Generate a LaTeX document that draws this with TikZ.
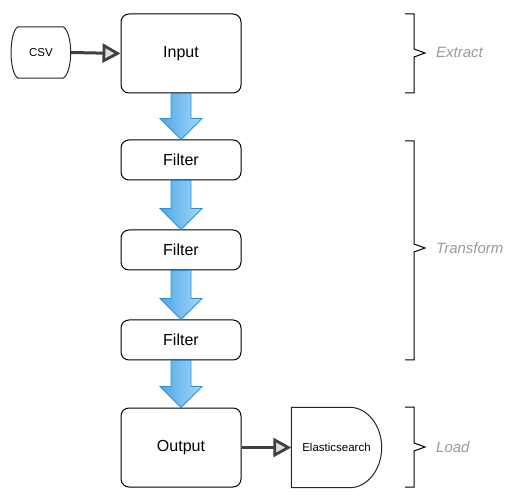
\documentclass[tikz,border=0pt]{standalone}
\usepackage{fontspec}
\setmainfont{Liberation Sans}
\usetikzlibrary{arrows.meta,calc}
\definecolor{arrL}{HTML}{4FA6E6}
\definecolor{arrR}{HTML}{A5D9F8}
\definecolor{arrB}{HTML}{2E8FD6}
\definecolor{connC}{HTML}{404040}
\definecolor{lblC}{HTML}{999999}
\definecolor{tipC}{HTML}{DDDDDD}
\newcommand\flowarrow[2]{%
  \shadedraw[flowarr] ($(#1.south)+(-10,0)$) -- ($(#2.north)+(-10,-21)$) -- ($(#2.north)+(-21,-21)$) -- (#2.north) -- ($(#2.north)+(21,-21)$) -- ($(#2.north)+(10,-21)$) -- ($(#1.south)+(10,0)$) -- cycle;}
\begin{document}
\begin{tikzpicture}[x=1pt,y=-1pt,
  stage/.style={draw=black,line width=1pt,rounded corners=8pt,minimum width=120pt,inner sep=0pt,font=\fontsize{16}{19}\selectfont},
  bigstage/.style={stage,minimum height=79pt},
  smallstage/.style={stage,minimum height=40pt},
  flowarr/.style={left color=arrL,right color=arrR,draw=arrB,line width=0.8pt},
  conn/.style={draw=connC,line width=3pt,-{Triangle[length=18pt,width=19pt,line width=2.8pt,fill=tipC]}},
  outline/.style={draw=black!85,line width=1pt},
  store/.style={inner sep=0pt,font=\fontsize{11.5}{14}\selectfont},
  brace/.style={draw=black,line width=1pt},
  phase/.style={anchor=west,inner sep=0pt,text=lblC,font=\fontsize{15}{18}\selectfont\itshape}]
\useasboundingbox (0,0) rectangle (515,500);

% stages
\node[bigstage] (in) at (181,53.5) {Input};
\node[smallstage] (f1) at (181,160) {Filter};
\node[smallstage] (f2) at (181,250) {Filter};
\node[smallstage] (f3) at (181,340) {Filter};
\node[bigstage] (out) at (181,447.5) {Output};

% block arrows
\flowarrow{in}{f1}
\flowarrow{f1}{f2}
\flowarrow{f2}{f3}
\flowarrow{f3}{out}

% CSV source
\node[store,minimum width=60pt,minimum height=51pt] (csv) at (41,52.5) {CSV};
\draw[outline] ($(csv.north west)+(7,0)$) -- ($(csv.north east)+(-8,0)$)
  .. controls ($(csv.north east)+(2,6)$) and ($(csv.south east)+(2,-6)$) .. ($(csv.south east)+(-8,0)$)
  -- ($(csv.south west)+(7,0)$)
  .. controls ($(csv.south west)+(-2,-6)$) and ($(csv.north west)+(-2,6)$) .. cycle;

% Elasticsearch sink
\node[store,minimum width=90pt,minimum height=80pt] (es) at (336.5,447.5) {Elasticsearch};
\draw[outline] (es.north west) -- ($(es.north west)+(58.5,0)$)
  .. controls ($(es.north west)+(75.9,0)$) and ($(es.east)+(0,-22.1)$) .. (es.east)
  .. controls ($(es.east)+(0,22.1)$) and ($(es.south west)+(75.9,0)$) .. ($(es.south west)+(58.5,0)$)
  -- (es.south west) -- cycle;

% connectors
\draw[conn] (csv.east) -- (in.west);
\draw[conn] (out.east) -- (es.west);

% braces
\draw[brace] (405,14) -- (414,14) -- (414,49) -- (425,53) -- (414,57) -- (414,93) -- (405,93);
\draw[brace] (405,141) -- (414,141) -- (414,244) -- (425,248) -- (414,252) -- (414,360) -- (405,360);
\draw[brace] (405,407) -- (414,407) -- (414,443) -- (425,447) -- (414,451) -- (414,487) -- (405,487);

% phase labels
\node[phase] (lx) at (436,52) {Extract};
\node[phase] (lt) at (436,248) {Transform};
\node[phase] (ll) at (436,447) {Load};
\end{tikzpicture}
\end{document}
